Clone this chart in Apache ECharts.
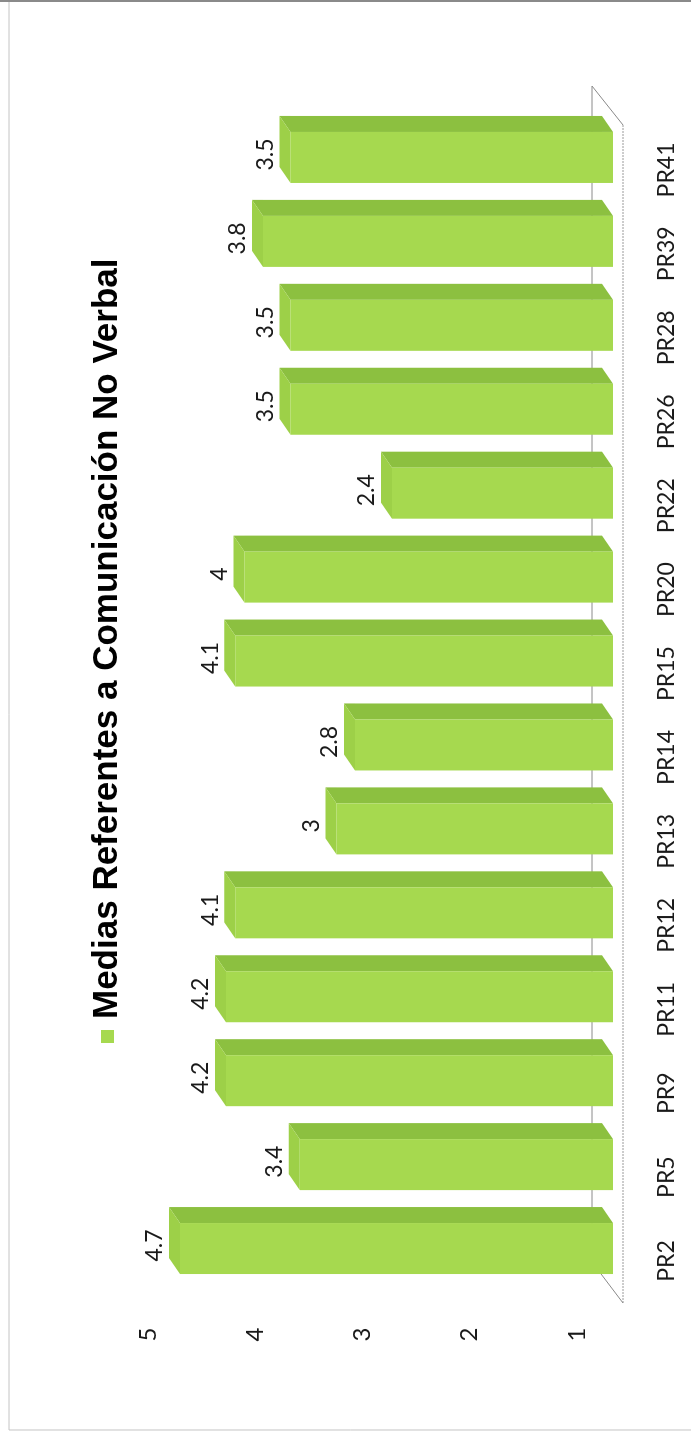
<!DOCTYPE html>
<html><head><meta charset="utf-8">
<script src="https://cdn.jsdelivr.net/npm/echarts@6/dist/echarts.min.js"></script>
<style>
html,body{margin:0;padding:0;background:#fff;overflow:hidden;width:691px;height:1434px;}
#c{position:absolute;left:0;top:0;width:1434px;height:691px;transform-origin:0 0;transform:translate(0,1434px) rotate(-90deg);}
</style></head><body><div id="c"></div>
<script>
const categories = ['PR2','PR5','PR9','PR11','PR12','PR13','PR14','PR15','PR20','PR22','PR26','PR28','PR39','PR41'];
const values = [4.7, 3.4, 4.2, 4.2, 4.1, 3, 2.8, 4.1, 4, 2.4, 3.5, 3.5, 3.8, 3.5];
const valueTicks = [1, 2, 3, 4, 5];
const seriesName = 'Medias Referentes a Comunicación No Verbal';

const FRONT = '#a6d94f', SIDE = '#8cc040', TOP = '#9dd048';
const LABEL_FONT = 'Lato';
const chart = echarts.init(document.getElementById('c'), null, {renderer: 'canvas'});

const gridTop = 130, gridBottomPx = 613, H = 691;
const barPxPerUnit = 92.13, labelPxPerUnit = 107.25, labelOneAt = 577;
const plotH = gridBottomPx - gridTop;
const labelMin = 1 - (gridBottomPx - labelOneAt) / labelPxPerUnit;

function renderBar(params, api) {
  const i = api.value(0), v = api.value(1);
  const p = api.coord([i, v]);
  const b = api.coord([i, 0]);
  const w = 51, dx = 16, dy = -11;
  const l = p[0] - w / 2, r = p[0] + w / 2, t = p[1], bt = b[1];
  return {
    type: 'group',
    children: [
      {type: 'polygon', shape: {points: [[r, t], [r + dx, t + dy], [r + dx, bt + dy], [r, bt]]}, style: {fill: SIDE}},
      {type: 'polygon', shape: {points: [[l, t], [l + dx, t + dy], [r + dx, t + dy], [r, t]]}, style: {fill: TOP}},
      {type: 'rect', shape: {x: l, y: t, width: w, height: bt - t}, style: {fill: FRONT}},
      {type: 'text', style: {text: String(v), x: p[0] + 3, y: t - 25, align: 'center', verticalAlign: 'middle',
        font: '23px ' + LABEL_FONT, fill: '#1a1a1a'}}
    ]
  };
}

function renderFloor(params, api) {
  if (params.dataIndex !== 0) return null;
  const n = categories.length;
  const bw = api.size([1, 0])[0];
  const L = api.coord([0, 0])[0] - bw / 2;
  const R = api.coord([n - 1, 0])[0] + bw / 2;
  const base = api.coord([0, 0])[1];
  const bk = base - 21, fr = base + 10;
  const s = {stroke: '#8a8a8a', lineWidth: 1};
  const sf = {stroke: '#9a9a9a', lineWidth: 1, lineDash: [2, 1]};
  return {
    type: 'group',
    children: [
      {type: 'line', shape: {x1: L + 28.5, y1: bk, x2: R + 29.5, y2: bk}, style: s},
      {type: 'line', shape: {x1: L - 12.5, y1: fr, x2: R - 9.5, y2: fr}, style: sf},
      {type: 'line', shape: {x1: L + 28.5, y1: bk, x2: L - 12.5, y2: fr}, style: s},
      {type: 'line', shape: {x1: R + 29.5, y1: bk, x2: R - 9.5, y2: fr}, style: s}
    ]
  };
}

chart.setOption({
  backgroundColor: '#ffffff',
  animation: false,
  legend: {
    left: 386, top: 85, icon: 'rect', itemWidth: 13, itemHeight: 13,
    textStyle: {fontFamily: 'Liberation Sans', fontWeight: 'bold', fontSize: 35, color: '#000', padding: [0, 0, 0, 6]},
    data: [{name: seriesName, itemStyle: {color: FRONT}}]
  },
  grid: {left: 143.5, right: 1434 - 1318.5, top: gridTop, bottom: H - gridBottomPx},
  xAxis: {
    type: 'category', data: categories, boundaryGap: true,
    axisLine: {show: false}, axisTick: {show: false},
    axisLabel: {margin: 42, fontSize: 23, fontFamily: LABEL_FONT, color: '#1a1a1a', padding: [0, 25, 0, 0]}
  },
  yAxis: [
    {type: 'value', show: false, min: 0, max: plotH / barPxPerUnit},
    {type: 'value', position: 'left', min: labelMin, max: labelMin + plotH / labelPxPerUnit,
      axisLine: {show: false}, axisTick: {show: false}, splitLine: {show: false},
      axisLabel: {customValues: valueTicks, margin: 37, fontSize: 24, fontFamily: LABEL_FONT, color: '#1a1a1a'}}
  ],
  series: [
    {type: 'custom', name: 'floor', z: 1, xAxisIndex: 0, yAxisIndex: 0, silent: true,
      renderItem: renderFloor, data: [[0, 0]]},
    {type: 'custom', name: seriesName, z: 2, xAxisIndex: 0, yAxisIndex: 0,
      itemStyle: {color: FRONT},
      renderItem: renderBar, encode: {x: 0, y: 1},
      data: values.map((v, i) => [i, v])}
  ],
  graphic: [
    {type: 'rect', shape: {x: 4, y: 9, width: 1431, height: 684}, style: {fill: 'none', stroke: '#c4c4c4', lineWidth: 1}, z: 0},
    {type: 'line', shape: {x1: 1433, y1: 0, x2: 1433, y2: 691}, style: {stroke: '#8a8a8a', lineWidth: 2}, z: 0}
  ]
});
</script></body></html>
